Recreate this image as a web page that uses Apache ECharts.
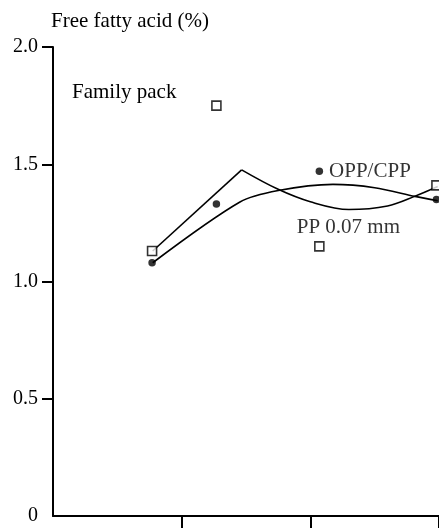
<!DOCTYPE html>
<html>
<head>
<meta charset="utf-8">
<script src="https://cdn.jsdelivr.net/npm/echarts@6/dist/echarts.min.js"></script>
<style>
html,body{margin:0;padding:0;background:#fff;}
#chart{width:439px;height:530px;}
</style>
</head>
<body>
<div id="chart"></div>
<script>
// Sampling positions (x) and measured free fatty acid values
const xPos = [0.77, 1.27, 2.07, 2.98];
const ppValues = [1.13, 1.75, 1.15, 1.41];      // PP 0.07 mm (open squares)
const oppValues = [1.08, 1.33, 1.47, 1.35];     // OPP/CPP (filled dots)

// Hand-drawn fitted lines
const ppFitX = [0.775, 1.466, 1.75, 2.0, 2.3, 2.6, 2.81, 2.99];
const ppFitY = [1.13, 1.476, 1.393, 1.34, 1.307, 1.322, 1.363, 1.405];
const oppFitX = [0.775, 1.453, 1.751, 2.176, 2.5, 2.813, 2.99];
const oppFitY = [1.08, 1.339, 1.388, 1.414, 1.40, 1.363, 1.344];

const yTicks = [0, 0.5, 1.0, 1.5, 2.0];
const xTicks = [1, 2, 3];

const yAxisName = 'Free fatty acid (%)';
const panelTitle = 'Family pack';
const ppName = 'PP 0.07 mm';
const oppName = 'OPP/CPP';

const FONT = 'Liberation Serif';
const pair = (xs, ys) => xs.map((x, i) => [x, ys[i]]);

const chart = echarts.init(document.getElementById('chart'), null, {renderer: 'canvas'});

const ppPts = pair(xPos, ppValues).map((p, i) => i === 2 ? {
  value: p,
  label: {show: true, formatter: ppName, position: 'top', distance: 3, offset: [29, 0],
          fontFamily: FONT, fontSize: 21, color: '#000'}
} : p);
const oppPts = pair(xPos, oppValues).map((p, i) => i === 2 ? {
  value: p,
  label: {show: true, formatter: oppName, position: 'right', distance: 6,
          fontFamily: FONT, fontSize: 21, color: '#000'}
} : p);

const ppFit = pair(ppFitX, ppFitY);
const oppFit = pair(oppFitX, oppFitY);

chart.setOption({
  animation: false,
  backgroundColor: '#fff',
  grid: {left: 53, right: 0, top: 47, bottom: 14, containLabel: false},
  xAxis: {
    type: 'value', min: 0, max: 3, interval: 1,
    axisLine: {show: true, onZero: false, lineStyle: {color: '#000', width: 2}},
    axisTick: {show: true, length: 12, inside: false, customValues: xTicks,
               lineStyle: {color: '#000', width: 2}},
    axisLabel: {show: false},
    splitLine: {show: false}
  },
  yAxis: {
    type: 'value', min: 0, max: 2, interval: 0.5,
    name: yAxisName, nameLocation: 'end', nameGap: 26,
    nameTextStyle: {fontFamily: FONT, fontSize: 21, color: '#000', align: 'left', verticalAlign: 'middle', padding: [0, 0, 0, -2]},
    axisLine: {show: true, lineStyle: {color: '#000', width: 2}},
    axisTick: {show: true, length: 11, customValues: yTicks.slice(1), lineStyle: {color: '#000', width: 2}},
    axisLabel: {
      margin: 15, fontFamily: FONT, fontSize: 20, color: '#000',
      customValues: yTicks,
      formatter: v => v === 0 ? '0' : v.toFixed(1)
    },
    splitLine: {show: false}
  },
  graphic: [{
    type: 'text', left: 72, top: 82,
    style: {text: panelTitle, font: '21px "Liberation Serif"', fill: '#000'}
  }],
  series: [
    {
      type: 'line', data: ppFit.slice(0, 2), showSymbol: false, smooth: false,
      lineStyle: {color: '#000', width: 1.6}, z: 2
    },
    {
      type: 'line', data: ppFit.slice(1), showSymbol: false, smooth: 0.35,
      lineStyle: {color: '#000', width: 1.6}, z: 2
    },
    {
      type: 'line', data: oppFit, showSymbol: false, smooth: 0.3,
      lineStyle: {color: '#000', width: 1.6}, z: 2
    },
    {
      name: ppName, type: 'scatter', data: ppPts, symbol: 'rect', symbolSize: 9,
      itemStyle: {color: '#fff', borderColor: '#000', borderWidth: 1.6}, z: 4
    },
    {
      name: oppName, type: 'scatter', data: oppPts, symbol: 'circle', symbolSize: 7.5,
      itemStyle: {color: '#000'}, z: 4
    }
  ]
});
</script>
</body>
</html>
